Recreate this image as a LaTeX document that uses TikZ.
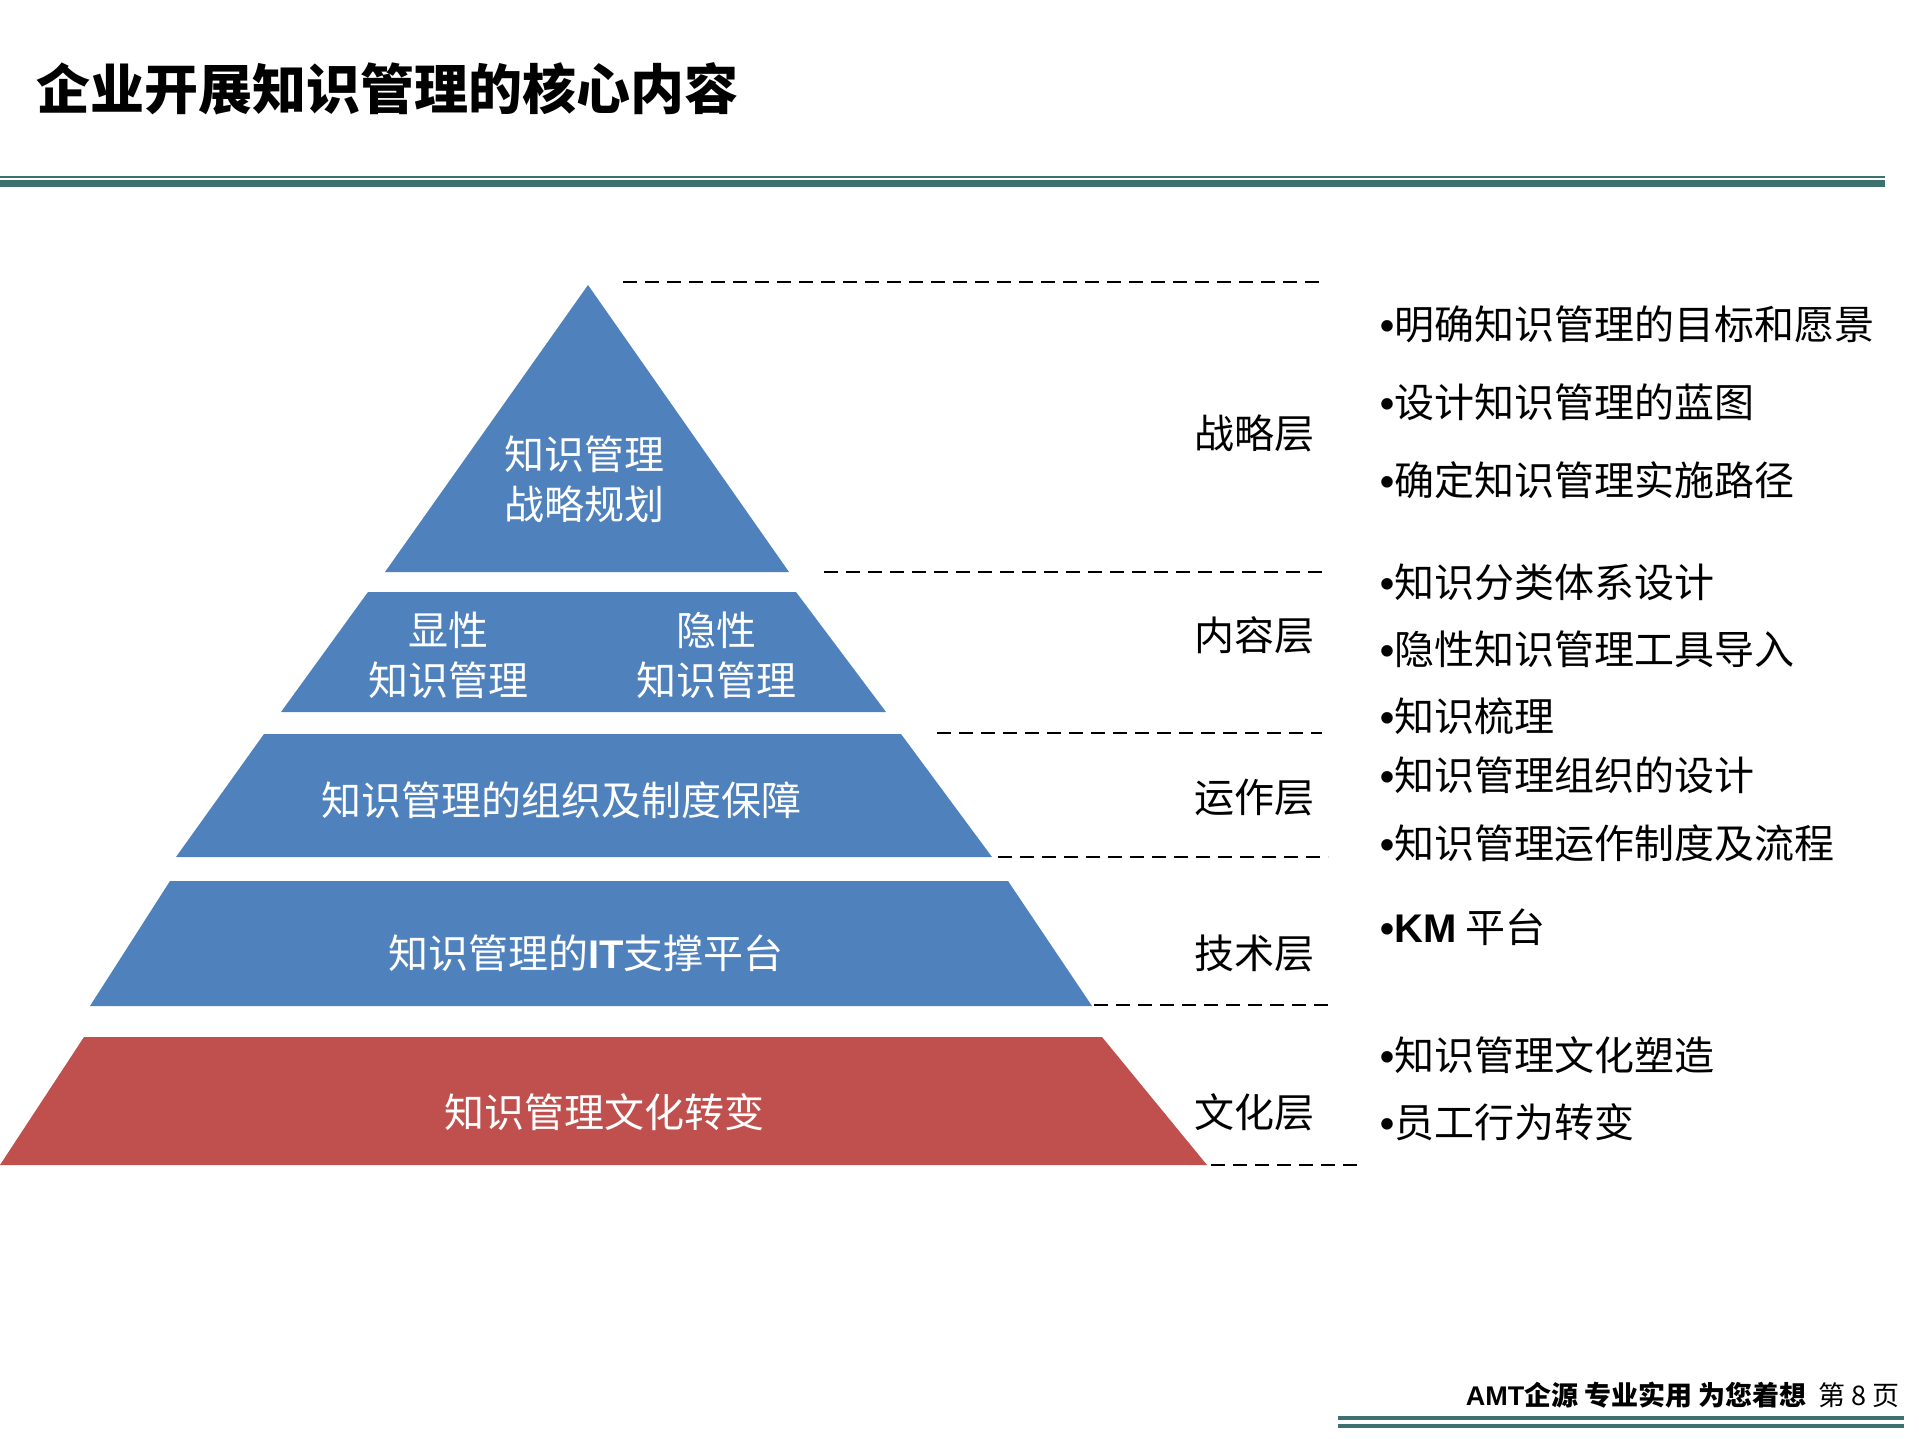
\documentclass[tikz,border=0pt]{standalone}
\usepackage{fontspec}
\setmainfont{Noto Sans CJK SC}
\newfontfamily\latinb{Liberation Sans}
\newcommand{\bdot}{{\latinb\textbf{•}}}
\definecolor{pblue}{HTML}{4F81BD}
\definecolor{pred}{HTML}{C0504D}
\definecolor{teal}{HTML}{3C7170}
\begin{document}
\begin{tikzpicture}[x=1pt,y=-1pt,
  lay/.style={fill=pblue,draw=none},
  wtxt/.style={text=white,font=\fontsize{40}{50}\selectfont,align=center},
  lbl/.style={font=\fontsize{40}{48}\selectfont},
  bul/.style={font=\fontsize{40}{48}\selectfont,anchor=west,inner sep=0},
  dsh/.style={dash pattern=on 14pt off 8pt,line width=2pt}]
\useasboundingbox (0,0) rectangle (1919,1439);
\node[anchor=west,font=\fontsize{54}{60}\selectfont\bfseries,inner sep=0] (title) at (36,89) {企业开展知识管理的核心内容};
\draw[teal,line width=2pt] (0,177) -- (1885,177);
\draw[teal,line width=7pt] (0,184) -- (1885,184);
% pyramid
\fill[lay] (588,285) -- (789,572) -- (385,572) -- cycle;
\fill[lay] (368,592) -- (796,592) -- (886,712) -- (281,712) -- cycle;
\fill[lay] (264,734) -- (901,734) -- (992,857) -- (176,857) -- cycle;
\fill[lay] (170,881) -- (1008,881) -- (1092,1006) -- (90,1006) -- cycle;
\fill[pred] (84,1037) -- (1102,1037) -- (1207,1165) -- (0,1165) -- cycle;
\node[wtxt] (t1) at (584,479) {知识管理\\战略规划};
\node[wtxt] (t2a) at (448,655) {显性\\知识管理};
\node[wtxt] (t2b) at (716,655) {隐性\\知识管理};
\node[wtxt] (t3) at (561,800) {知识管理的组织及制度保障};
\node[wtxt] (t4) at (586,953) {知识管理的{\latinb\bfseries IT}支撑平台};
\node[wtxt] (t5) at (604,1112) {知识管理文化转变};
% dashed
\draw[dsh] (623,282) -- (1322,282);
\draw[dsh] (824,572) -- (1322,572);
\draw[dsh] (937,733) -- (1322,733);
\draw[dsh] (998,857) -- (1328,857);
\draw[dsh] (1094,1005) -- (1328,1005);
\draw[dsh] (1211,1165) -- (1359,1165);
% labels
\node[lbl] (l1) at (1254,433) {战略层};
\node[lbl] (l2) at (1254,635) {内容层};
\node[lbl] (l3) at (1254,798) {运作层};
\node[lbl] (l4) at (1254,953) {技术层};
\node[lbl] (l5) at (1254,1112) {文化层};
% bullets
\node[bul] (b1) at (1380,324) {\bdot{}明确知识管理的目标和愿景};
\node[bul] (b2) at (1380,402) {\bdot{}设计知识管理的蓝图};
\node[bul] (b3) at (1380,480) {\bdot{}确定知识管理实施路径};
\node[bul] (b4) at (1380,582) {\bdot{}知识分类体系设计};
\node[bul] (b5) at (1380,649) {\bdot{}隐性知识管理工具导入};
\node[bul] (b6) at (1380,716) {\bdot{}知识梳理};
\node[bul] (b7) at (1380,775) {\bdot{}知识管理组织的设计};
\node[bul] (b8) at (1380,843) {\bdot{}知识管理运作制度及流程};
\node[bul] (b9) at (1380,927) {\bdot{}{\latinb\bfseries KM} 平台};
\node[bul] (b10) at (1380,1055) {\bdot{}知识管理文化塑造};
\node[bul] (b11) at (1380,1122) {\bdot{}员工行为转变};
% footer
\node[anchor=east,inner sep=0,font=\fontsize{27}{30}\selectfont] (foot) at (1900,1395) {{\latinb\bfseries AMT}\textbf{企源 专业实用 为您着想}\ \ 第 8 页};
\draw[teal,line width=3.5pt] (1338,1418) -- (1904,1418);
\draw[teal,line width=3.5pt] (1338,1426) -- (1904,1426);
\end{tikzpicture}
\end{document}
